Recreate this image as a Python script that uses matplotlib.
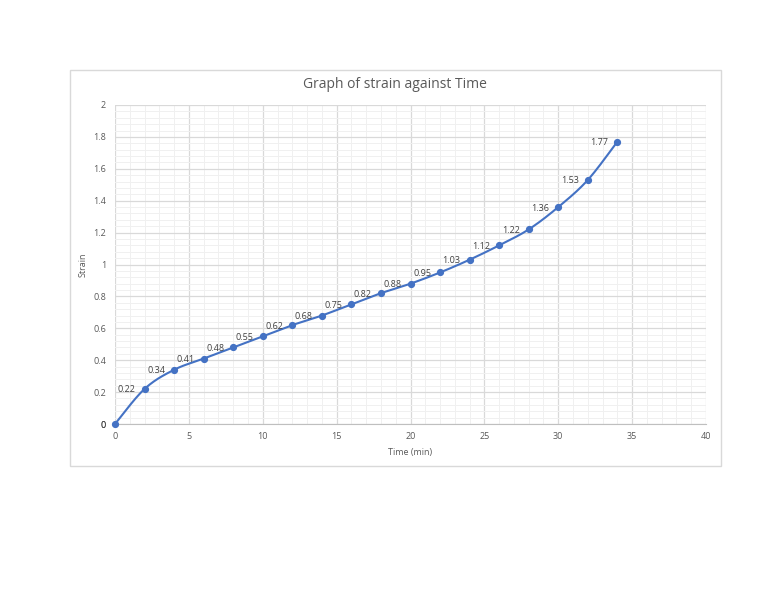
import numpy as np
import matplotlib.pyplot as plt
from matplotlib.patches import Rectangle
from matplotlib.ticker import MultipleLocator

plt.rcParams['font.family'] = ['Open Sans', 'DejaVu Sans']

time_min = [0, 2, 4, 6, 8, 10, 12, 14, 16, 18, 20, 22, 24, 26, 28, 30, 32, 34]
strain = [0, 0.22, 0.34, 0.41, 0.48, 0.55, 0.62, 0.68, 0.75, 0.82, 0.88,
          0.95, 1.03, 1.12, 1.22, 1.36, 1.53, 1.77]
labels = ['0', '0.22', '0.34', '0.41', '0.48', '0.55', '0.62', '0.68', '0.75',
          '0.82', '0.88', '0.95', '1.03', '1.12', '1.22', '1.36', '1.53', '1.77']

blue = '#4472C4'
txt = '#595959'


def smooth(xs, ys, n=30):
    # excel-like bezier smoothing through the points
    p = np.column_stack([xs, ys]).astype(float)
    p = np.vstack([p[0], p, p[-1]])
    out = []
    for i in range(1, len(p) - 2):
        p0, p1, p2, p3 = p[i - 1], p[i], p[i + 1], p[i + 2]
        c1 = p1 + (p2 - p0) / 6
        c2 = p2 - (p3 - p1) / 6
        t = np.linspace(0, 1, n)[:, None]
        seg = ((1 - t) ** 3) * p1 + 3 * ((1 - t) ** 2) * t * c1 + 3 * (1 - t) * t ** 2 * c2 + t ** 3 * p2
        out.append(seg)
    out = np.vstack(out)
    return out[:, 0], out[:, 1]


fig = plt.figure(figsize=(7.68, 5.94), dpi=100)
fig.patches.append(Rectangle((70 / 768, 1 - 466 / 594), 651 / 768, 396 / 594,
                             transform=fig.transFigure, fill=False,
                             edgecolor='#D9D9D9', linewidth=1))

ax = fig.add_axes([115 / 768, 1 - 424 / 594, 591 / 768, 319 / 594])
ax.set_xlim(0, 40)
ax.set_ylim(0, 2)
ax.xaxis.set_major_locator(MultipleLocator(5))
ax.xaxis.set_minor_locator(MultipleLocator(1))
ax.yaxis.set_major_locator(MultipleLocator(0.2))
ax.yaxis.set_minor_locator(MultipleLocator(0.04))
ax.set_yticks(np.arange(0, 2.01, 0.2))
ax.set_yticklabels(['0', '0.2', '0.4', '0.6', '0.8', '1', '1.2', '1.4', '1.6', '1.8', '2'])
ax.grid(which='major', color='#D9D9D9', linewidth=0.9)
ax.grid(which='minor', color='#F0F0F0', linewidth=0.7)
ax.set_axisbelow(True)
for s in ['top', 'right', 'left']:
    ax.spines[s].set_visible(False)
ax.spines['bottom'].set_color('#BFBFBF')
ax.tick_params(which='both', length=0, labelsize=6.5, labelcolor=txt)
ax.tick_params(axis='y', pad=6.5)
ax.tick_params(axis='x', pad=6)

sx, sy = smooth(time_min, strain)
ax.plot(sx, sy, color=blue, linewidth=1.5, clip_on=False, zorder=3)
ax.plot(time_min, strain, 'o', color=blue, markersize=4.2, clip_on=False, zorder=4)
for x, y, l in zip(time_min, strain, labels):
    ax.annotate(l, (x, y), xytext=(-6.5, 0), textcoords='offset points',
                ha='right', va='center_baseline', fontsize=6.5, color='#404040')

ax.set_xlabel('Time (min)', fontsize=6.5, color=txt, labelpad=5)
ax.set_ylabel('Strain', fontsize=6.5, color=txt, labelpad=4)
fig.text(395 / 768, 1 - 85 / 594, 'Graph of strain against Time', ha='center',
         va='center', fontsize=10, color=txt)

fig.savefig('out.png', dpi=100)
